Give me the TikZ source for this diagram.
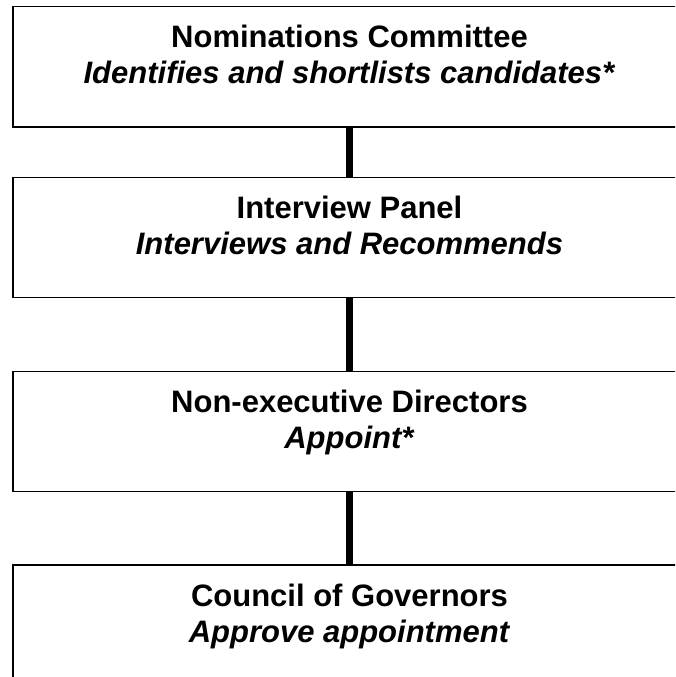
\documentclass[tikz,border=0pt]{standalone}
\usepackage{fontspec}
\setmainfont{Liberation Sans}
\usetikzlibrary{positioning}

\begin{document}
\begin{tikzpicture}[stage/.style={rectangle,draw=black,line width=1.6pt,minimum width=673pt,minimum height=120pt,align=center,font=\bfseries\fontsize{31pt}{36pt}\selectfont}, link/.style={line width=7pt}, node distance = 49pt]
		\useasboundingbox (0,0) rectangle (675pt,-677pt);
		\clip (0,0) rectangle (675pt,-677pt);
		\node[stage] (nom) at (349.5pt,-66.7pt){Nominations Committee\\\textit{Identifies and shortlists candidates*}\\[-12pt]\mbox{}};
		\node[stage] (panel)[below = of nom]{Interview Panel\\\textit{Interviews and Recommends}\\[-12pt]\mbox{}};
		\node[stage] (ned)[below = 72.5pt of panel]{Non-executive Directors\\\textit{Appoint*}\\[-12pt]\mbox{}};
		\node[stage] (cog)[below = 72pt of ned]{Council of Governors\\\textit{Approve appointment}\\[-12pt]\mbox{}};
		\draw[link] (nom) -- (panel);
		\draw[link] (panel) -- (ned);
		\draw[link] (ned) -- (cog);
	\end{tikzpicture}
\end{document}
